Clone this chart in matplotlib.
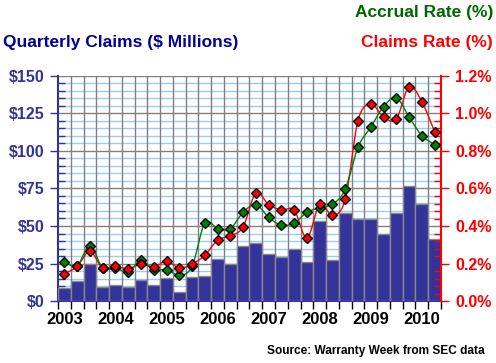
import matplotlib
matplotlib.use("Agg")
import matplotlib.pyplot as plt
import numpy as np

# quarterly values, 2003 Q1 .. 2010 Q2
years = ["2003", "2004", "2005", "2006", "2007", "2008", "2009", "2010"]
claims = [8.7, 13.3, 24.4, 9.1, 10.4, 9.3, 14.0, 10.4, 15.1, 5.8,
          15.8, 16.4, 27.8, 24.4, 36.4, 38.7, 31.1, 29.1, 34.4, 26.0,
          53.1, 27.1, 58.7, 54.4, 54.4, 44.7, 58.7, 76.4, 64.4, 41.1]
claims_rate = [0.144, 0.185, 0.265, 0.175, 0.185, 0.172, 0.196, 0.180, 0.213, 0.176,
               0.197, 0.244, 0.325, 0.347, 0.396, 0.576, 0.514, 0.485, 0.485, 0.336,
               0.516, 0.457, 0.544, 0.962, 1.052, 0.981, 0.971, 1.143, 1.063, 0.903]
accrual_rate = [0.206, 0.188, 0.295, 0.176, 0.176, 0.155, 0.217, 0.167, 0.167, 0.137,
                0.185, 0.416, 0.386, 0.386, 0.473, 0.514, 0.446, 0.405, 0.416, 0.473,
                0.498, 0.516, 0.597, 0.821, 0.927, 1.036, 1.084, 0.981, 0.882, 0.834]

BLUE = "#333399"


def smooth(x, y, n=12):
    # Catmull-Rom curve through the points, like a spreadsheet "smoothed line"
    x = np.asarray(x, float)
    y = np.asarray(y, float)
    px = np.concatenate([[2 * x[0] - x[1]], x, [2 * x[-1] - x[-2]]])
    py = np.concatenate([[2 * y[0] - y[1]], y, [2 * y[-1] - y[-2]]])
    t = np.linspace(0, 1, n, endpoint=False)
    xs, ys = [], []
    for i in range(1, len(px) - 2):
        for p, out in ((px, xs), (py, ys)):
            p0, p1, p2, p3 = p[i - 1], p[i], p[i + 1], p[i + 2]
            out.extend(0.5 * (2 * p1 + (-p0 + p2) * t
                              + (2 * p0 - 5 * p1 + 4 * p2 - p3) * t ** 2
                              + (-p0 + 3 * p1 - 3 * p2 + p3) * t ** 3))
    xs.append(x[-1])
    ys.append(y[-1])
    return xs, ys


fig = plt.figure(figsize=(4.96, 3.63), dpi=100)
ax = fig.add_axes([58 / 496, 62 / 363, 383 / 496, 225 / 363])
x = np.arange(len(claims))

ax.bar(x, claims, width=1.0, color=BLUE, edgecolor="#888888", linewidth=1, zorder=3)

ax.set_xlim(-0.5, len(claims) - 0.5)
ax.set_ylim(0, 150)

# grid: light blue every $5, gray every $25, gray verticals per quarter
for v in np.arange(5, 150, 5):
    ax.axhline(v, color="#99ccff" if v % 25 else "#808080", lw=1, zorder=1)
for b in np.arange(0.5, len(claims) - 0.5, 1):
    ax.axvline(b, color="#808080", lw=1, zorder=2)
ax.axhline(150, color="#808080", lw=1, zorder=2)

ax.set_yticks(np.arange(0, 151, 25))
ax.set_yticklabels(["$%d" % v for v in range(0, 151, 25)])
ax.set_yticks(np.arange(0, 151, 5), minor=True)
ax.tick_params(axis="y", which="major", direction="out", length=6, width=1,
               color=BLUE, labelcolor=BLUE, labelsize=11.5, pad=4)
ax.tick_params(axis="y", which="minor", direction="in", length=5, width=1, color=BLUE)

ax.set_xticks(np.arange(-0.5, len(claims), 1), minor=True)
ax.set_xticks(np.arange(0, len(claims), 4))
ax.set_xticklabels(years)
ax.tick_params(axis="x", which="minor", direction="out", length=6, width=1, color="black")
ax.tick_params(axis="x", which="major", length=0, labelsize=12, pad=8)
for lab in ax.get_yticklabels() + ax.get_xticklabels():
    lab.set_fontweight("bold")
    lab.set_family("Liberation Sans")

for s in ["top", "right"]:
    ax.spines[s].set_visible(False)
ax.spines["left"].set_color(BLUE)
ax.spines["bottom"].set_color(BLUE)
ax.spines["left"].set_linewidth(1.5)
ax.spines["bottom"].set_linewidth(1.5)

ax2 = ax.twinx()
ax2.set_ylim(0, 1.2)
ax2.set_yticks(np.arange(0, 1.21, 0.2))
ax2.set_yticklabels(["%.1f%%" % v for v in np.arange(0, 1.21, 0.2)])
ax2.set_yticks(np.arange(0, 1.21, 0.04), minor=True)
ax2.tick_params(axis="y", which="major", direction="out", length=6, width=1,
                color="red", labelcolor="red", labelsize=11.5, pad=4)
ax2.tick_params(axis="y", which="minor", direction="in", length=5, width=1, color="red")
for lab in ax2.get_yticklabels():
    lab.set_fontweight("bold")
    lab.set_family("Liberation Sans")
for s in ["top", "left", "bottom"]:
    ax2.spines[s].set_visible(False)
ax2.spines["right"].set_color("red")
ax2.spines["right"].set_linewidth(1.5)

for vals, col in ((claims_rate, "red"), (accrual_rate, "#008000")):
    sx, sy = smooth(x, vals)
    ax2.plot(sx, sy, color=col, lw=1, zorder=4)
for vals, col in ((accrual_rate, "#008000"), (claims_rate, "red")):
    ax2.plot(x, vals, ls="none", marker="D", ms=5, mfc=col, mec="black", mew=1, zorder=5)

fig.text(3 / 496, 1 - 42 / 363, "Quarterly Claims ($ Millions)", color="#000099",
         fontsize=12.5, fontweight="bold", family="Liberation Sans", va="center", ha="left")
fig.text(493 / 496, 1 - 12 / 363, "Accrual Rate (%)", color="#006600",
         fontsize=12.5, fontweight="bold", family="Liberation Sans", va="center", ha="right")
fig.text(493 / 496, 1 - 42 / 363, "Claims Rate (%)", color="red",
         fontsize=12.5, fontweight="bold", family="Liberation Sans", va="center", ha="right")
fig.text(485 / 496, 1 - 351 / 363, "Source: Warranty Week from SEC data", color="black",
         fontsize=8.6, fontweight="bold", family="Liberation Sans", va="center", ha="right")

plt.savefig("out.png", dpi=100)
